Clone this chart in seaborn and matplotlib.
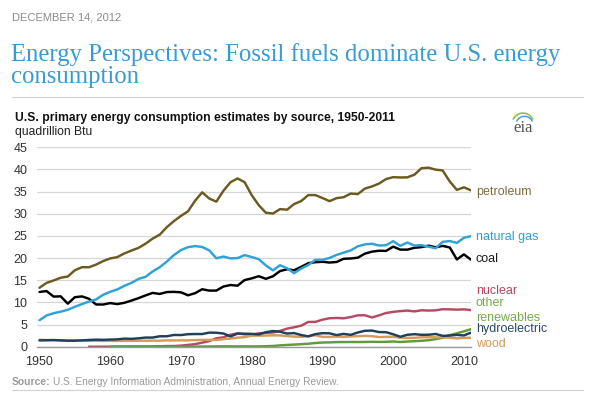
import numpy as np
import pandas as pd
import seaborn as sns
import matplotlib.pyplot as plt
from matplotlib.lines import Line2D

# ---- data (quadrillion Btu) ----
years = list(range(1950, 2012))

petroleum = [13.3, 14.4, 14.95, 15.56, 15.84, 17.25, 17.94, 17.93, 18.53, 19.32,
             19.92, 20.22, 21.05, 21.70, 22.30, 23.25, 24.40, 25.28, 26.98, 28.34,
             29.52, 30.56, 32.95, 34.84, 33.45, 32.73, 35.18, 37.12, 37.97, 37.12,
             34.20, 31.93, 30.23, 30.05, 31.05, 30.92, 32.20, 32.87, 34.22, 34.21,
             33.55, 32.85, 33.53, 33.74, 34.56, 34.44, 35.68, 36.16, 36.82, 37.84,
             38.26, 38.19, 38.22, 38.81, 40.29, 40.39, 39.96, 39.77, 37.28, 35.40,
             35.97, 35.28]

natural_gas = [5.97, 7.05, 7.55, 7.91, 8.33, 9.00, 9.61, 10.19, 10.66, 11.72,
               12.39, 12.93, 13.73, 14.40, 15.29, 15.77, 16.99, 17.94, 19.21, 20.68,
               21.80, 22.47, 22.70, 22.51, 21.73, 19.95, 20.35, 19.93, 20.00, 20.67,
               20.24, 19.75, 18.36, 17.22, 18.39, 17.70, 16.59, 17.64, 18.45, 19.60,
               19.60, 20.03, 20.71, 21.23, 21.73, 22.67, 23.09, 23.22, 22.83, 22.91,
               23.82, 22.77, 23.51, 22.83, 22.91, 22.56, 22.22, 23.66, 23.84, 23.42,
               24.58, 24.95]

coal = [12.35, 12.55, 11.31, 11.37, 9.71, 11.17, 11.35, 10.82, 9.53, 9.52,
        9.84, 9.62, 9.91, 10.41, 10.96, 11.58, 12.14, 11.91, 12.33, 12.38,
        12.27, 11.60, 12.08, 12.97, 12.66, 12.66, 13.58, 13.92, 13.77, 15.04,
        15.42, 15.91, 15.32, 15.89, 17.07, 17.48, 17.26, 18.01, 18.85, 19.07,
        19.17, 18.99, 19.12, 19.84, 19.91, 20.09, 21.00, 21.45, 21.66, 21.62,
        22.58, 21.91, 21.90, 22.32, 22.47, 22.80, 22.45, 22.75, 22.39, 19.69,
        20.83, 19.64]

nuclear_years = list(range(1957, 2012))
nuclear = [0.00, 0.00, 0.00,
           0.01, 0.02, 0.03, 0.04, 0.04, 0.04, 0.06, 0.09, 0.14, 0.15,
           0.24, 0.41, 0.58, 0.91, 1.27, 1.90, 2.11, 2.70, 3.02, 2.78,
           2.74, 3.01, 3.13, 3.20, 3.55, 4.08, 4.38, 4.75, 5.59, 5.60,
           6.10, 6.42, 6.48, 6.41, 6.69, 7.08, 7.09, 6.60, 7.07, 7.61,
           7.86, 8.03, 8.15, 7.96, 8.22, 8.16, 8.21, 8.46, 8.43, 8.36,
           8.43, 8.26]

other_years = list(range(1960, 2012))
other_renewables = [0.00, 0.00, 0.00, 0.01, 0.00, 0.00, 0.00, 0.01, 0.01, 0.01,
                    0.01, 0.01, 0.03, 0.04, 0.05, 0.07, 0.08, 0.08, 0.06, 0.08,
                    0.06, 0.08, 0.12, 0.16, 0.30, 0.40, 0.48, 0.57, 0.67, 0.83,
                    0.94, 0.97, 1.04, 1.05, 1.06, 1.05, 1.07, 1.11, 1.08, 1.10,
                    1.18, 1.06, 1.17, 1.24, 1.34, 1.46, 1.71, 2.01, 2.62, 3.02,
                    3.47, 3.95]

hydroelectric = [1.42, 1.45, 1.50, 1.44, 1.36, 1.36, 1.43, 1.52, 1.59, 1.55,
                 1.61, 1.66, 1.82, 1.77, 1.89, 2.06, 2.06, 2.35, 2.35, 2.65,
                 2.63, 2.82, 2.86, 2.86, 3.18, 3.15, 2.98, 2.33, 2.94, 2.93,
                 2.90, 2.76, 3.27, 3.53, 3.39, 2.97, 3.07, 2.63, 2.33, 2.84,
                 3.05, 3.02, 2.62, 2.89, 2.68, 3.21, 3.59, 3.64, 3.30, 3.27,
                 2.81, 2.24, 2.69, 2.82, 2.69, 2.70, 2.87, 2.45, 2.51, 2.67,
                 2.54, 3.17]

wood = [1.56, 1.51, 1.47, 1.40, 1.34, 1.42, 1.39, 1.33, 1.32, 1.31,
        1.32, 1.30, 1.32, 1.32, 1.34, 1.34, 1.37, 1.34, 1.43, 1.42,
        1.43, 1.43, 1.50, 1.53, 1.54, 1.50, 1.71, 1.84, 2.04, 2.15,
        2.48, 2.50, 2.51, 2.56, 2.55, 2.40, 2.28, 2.24, 2.40, 2.58,
        2.22, 2.19, 2.28, 2.21, 2.32, 2.37, 2.44, 2.37, 2.18, 2.21,
        2.26, 2.04, 1.98, 2.00, 2.12, 2.14, 2.11, 2.09, 2.04, 1.88,
        1.99, 2.01]

line_colors = {
    "nuclear": "#b54a63",
    "other renewables": "#5f9b3b",
    "wood": "#d59b5b",
    "hydroelectric": "#1f3f5b",
    "coal": "#000000",
    "natural gas": "#2fa2d6",
    "petroleum": "#6b5b20",
}

frames = [
    pd.DataFrame({"year": nuclear_years, "value": nuclear, "source": "nuclear"}),
    pd.DataFrame({"year": other_years, "value": other_renewables, "source": "other renewables"}),
    pd.DataFrame({"year": years, "value": wood, "source": "wood"}),
    pd.DataFrame({"year": years, "value": hydroelectric, "source": "hydroelectric"}),
    pd.DataFrame({"year": years, "value": coal, "source": "coal"}),
    pd.DataFrame({"year": years, "value": natural_gas, "source": "natural gas"}),
    pd.DataFrame({"year": years, "value": petroleum, "source": "petroleum"}),
]
df = pd.concat(frames, ignore_index=True)

sns.set_style("white")
plt.rcParams["font.family"] = ["Liberation Sans", "DejaVu Sans"]

W, H = 595, 399
fig = plt.figure(figsize=(W / 100, H / 100), dpi=100)


def fx(px):
    return px / W


def fy(py):
    return 1 - py / H


ax = fig.add_axes([fx(37), fy(346.7), fx(471 - 37), (346.7 - 147.3) / H])
sns.lineplot(data=df, x="year", y="value", hue="source", palette=line_colors,
             hue_order=list(line_colors.keys()), legend=False,
             linewidth=1.75, ax=ax)

ax.set_xlim(1949.65, 2011)
ax.set_ylim(0, 45)
ax.set_xticks(range(1950, 2011, 10))
ax.set_yticks(range(0, 46, 5))
ax.set_xlabel("")
ax.set_ylabel("")
ax.yaxis.grid(True, color="#d6d6d6", linewidth=0.9)
ax.set_axisbelow(True)
for side in ["top", "right", "left"]:
    ax.spines[side].set_visible(False)
ax.spines["bottom"].set_color("#9a9a9a")
ax.spines["bottom"].set_linewidth(1.0)
ax.tick_params(axis="x", direction="out", length=4, width=0.8, color="#9a9a9a",
               labelsize=9, labelcolor="#333333", pad=3)
ax.tick_params(axis="y", length=0, labelsize=9, labelcolor="#333333", pad=7)
ax.patch.set_alpha(0)

# right-hand series labels
labels = [
    ("petroleum", 34.8, "#7d6c3f"),
    ("natural gas", 24.7, "#2c9fd3"),
    ("coal", 19.8, "#1a1a1a"),
    ("nuclear", 12.6, "#b0485f"),
    ("other", 9.8, "#79a94c"),
    ("renewables", 6.5, "#79a94c"),
    ("hydroelectric", 3.9, "#2c4866"),
    ("wood", 0.5, "#d29a5c"),
]
for text, yv, col in labels:
    ax.text(2011.7, yv, text, color=col, fontsize=9, va="center", ha="left",
            clip_on=False)

# header / footer text
fig.text(fx(12), fy(18), "DECEMBER 14, 2012", color="#8c8c8c", fontsize=8,
         va="center", ha="left")
fig.text(fx(11), fy(61.5), "Energy Perspectives: Fossil fuels dominate U.S. energy",
         color="#3a9bd2", fontsize=17.8, family=["Liberation Serif"],
         va="baseline", ha="left")
fig.text(fx(11), fy(83.5), "consumption", color="#3a9bd2", fontsize=17.8,
         family=["Liberation Serif"], va="baseline", ha="left")
fig.add_artist(Line2D([fx(12), fx(583)], [fy(97), fy(97)], color="#d0d0d0",
                      linewidth=0.8))

fig.text(fx(15), fy(118), "U.S. primary energy consumption estimates by source, 1950-2011",
         color="#111111", fontsize=8.7, fontweight="bold", va="center", ha="left")
fig.text(fx(15), fy(132), "quadrillion Btu", color="#222222", fontsize=8.7,
         va="center", ha="left")

fig.text(fx(513), fy(128), "eia", color="#555555", fontsize=12,
         family=["Liberation Serif"], va="center", ha="left")
logo = fig.add_axes([fx(511), fy(124), fx(26), 12 / H])
t = np.linspace(0.15 * np.pi, 0.85 * np.pi, 30)
logo.plot(np.cos(t), np.sin(t), color="#8cc152", linewidth=1.2)
logo.plot(0.8 * np.cos(t) + 0.15, 0.8 * np.sin(t) - 0.1, color="#3a9bd2", linewidth=1.0)
logo.set_xlim(-1.1, 1.3)
logo.set_ylim(0, 1.1)
logo.axis("off")

fig.text(fx(12), fy(382), "Source:", color="#9a9a9a", fontsize=7.5,
         fontweight="bold", va="center", ha="left")
fig.text(fx(53), fy(382), "U.S. Energy Information Administration, Annual Energy Review.",
         color="#9a9a9a", fontsize=7.3, va="center", ha="left")
fig.add_artist(Line2D([fx(12), fx(583)], [fy(389.5), fy(389.5)], color="#d0d0d0",
                      linewidth=0.8))

fig.savefig("out.png", dpi=100)
